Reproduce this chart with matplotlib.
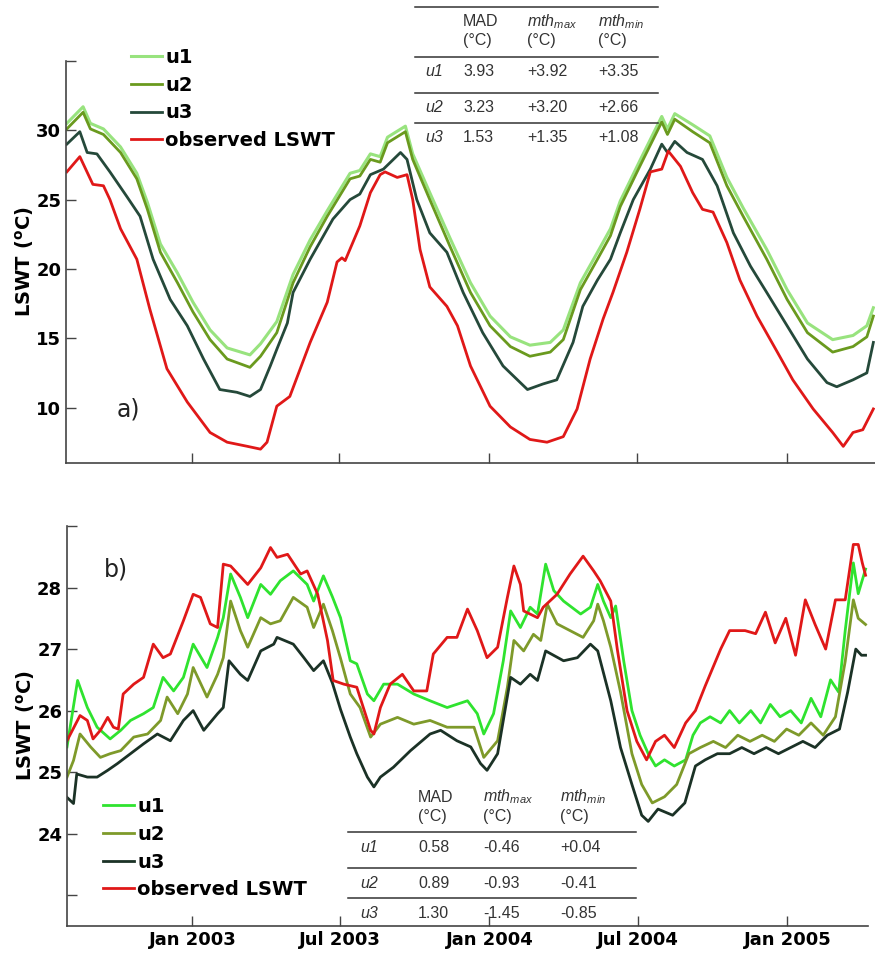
import matplotlib.pyplot as plt
import matplotlib.dates as mdates
from matplotlib.lines import Line2D
import pandas as pd

plt.rcParams['mathtext.fontset'] = 'custom'
plt.rcParams['mathtext.it'] = 'Liberation Sans:italic'
plt.rcParams['mathtext.rm'] = 'Liberation Sans'
plt.rcParams['mathtext.bf'] = 'DejaVu Sans:bold'

START = pd.Timestamp('2003-01-01')

# ---- panel a) : days since 1 Jan 2003, LSWT (deg C)
a_obs_days = [-154, -138, -122, -109, -101, -88, -68, -52, -31, -6, 22, 43, 68, 84, 92, 104, 120, 145,
              166, 178, 184, 188, 206, 219, 231, 237, 252, 264, 271, 280, 292, 313, 326, 342, 366, 391,
              415, 436, 456, 473, 489, 505, 517, 534, 550, 563, 577, 585, 600, 615, 627, 640, 657, 673,
              694, 719, 738, 763, 787, 800, 812, 824, 837]
a_obs = [27.0, 28.1, 26.1, 26.0, 25.0, 22.9, 20.7, 17.1, 12.8, 10.4, 8.2, 7.5, 7.2, 7.0, 7.5, 10.1, 10.8, 14.7,
         17.6, 20.5, 20.8, 20.6, 23.1, 25.5, 26.8, 27.0, 26.6, 26.8, 25.0, 21.4, 18.7, 17.3, 15.9, 13.0, 10.1, 8.6,
         7.7, 7.5, 7.9, 9.9, 13.5, 16.4, 18.3, 21.2, 24.3, 27.0, 27.2, 28.5, 27.4, 25.5, 24.3, 24.1, 21.9, 19.2,
         16.6, 14.0, 12.0, 9.9, 8.2, 7.2, 8.2, 8.4, 9.9]

a_u3_days = [-154, -138, -129, -117, -101, -80, -64, -48, -27, -6, 14, 34, 55, 71, 84, 96, 104, 117, 124, 145,
             173, 194, 206, 219, 235, 256, 264, 276, 292, 313, 333, 357, 382, 412, 431, 448, 468, 480, 498,
             514, 526, 542, 563, 577, 584, 593, 608, 627, 645, 665, 686, 706, 731, 756, 780, 792, 812, 829, 837]
a_u3 = [29.0, 29.9, 28.4, 28.3, 27.0, 25.2, 23.8, 20.7, 17.8, 15.9, 13.5, 11.3, 11.1, 10.8, 11.3, 13.0, 14.2, 16.1, 18.3, 20.7,
        23.6, 25.0, 25.4, 26.8, 27.2, 28.4, 27.9, 25.0, 22.6, 21.2, 18.3, 15.4, 13.0, 11.3, 11.7, 12.0, 14.7, 17.3, 19.2,
        20.7, 22.6, 25.0, 27.2, 29.0, 28.4, 29.2, 28.4, 27.9, 26.0, 22.6, 20.2, 18.3, 15.9, 13.5, 11.8, 11.5, 12.0, 12.5, 14.7]

a_u2_days = [-154, -134, -125, -109, -88, -68, -55, -39, -18, 1, 22, 43, 71, 84, 104, 124, 145, 166, 194,
             206, 219, 231, 240, 262, 271, 292, 317, 342, 366, 391, 415, 440, 456, 477, 498, 514, 526, 550,
             577, 584, 593, 615, 636, 657, 677, 706, 731, 756, 787, 812, 829, 837]
a_u2 = [30.1, 31.3, 30.1, 29.7, 28.4, 26.5, 24.3, 21.2, 19.0, 16.9, 14.9, 13.5, 12.9, 13.7, 15.4, 19.0, 21.6, 23.8, 26.5,
        26.7, 27.9, 27.7, 29.1, 29.9, 27.9, 25.0, 21.6, 18.3, 15.9, 14.4, 13.7, 14.0, 14.9, 18.5, 20.7, 22.4, 24.5, 27.4,
        30.6, 29.7, 30.8, 29.9, 29.1, 26.0, 23.8, 20.7, 17.8, 15.4, 14.0, 14.4, 15.1, 16.6]

a_u1_days = a_u2_days
a_u1 = [30.5, 31.7, 30.5, 30.1, 28.8, 26.9, 24.8, 21.8, 19.7, 17.6, 15.6, 14.3, 13.8, 14.6, 16.2, 19.6, 22.1, 24.2, 26.9,
        27.1, 28.3, 28.1, 29.5, 30.3, 28.3, 25.5, 22.2, 19.0, 16.6, 15.1, 14.5, 14.7, 15.6, 19.0, 21.2, 22.9, 24.9, 27.8,
        31.0, 30.1, 31.2, 30.4, 29.6, 26.6, 24.4, 21.4, 18.5, 16.1, 14.9, 15.2, 15.9, 17.2]

# ---- panel b)
b_obs_days = [-154, -138, -129, -122, -113, -104, -97, -91, -85, -72, -60, -48, -36, -27, -11, 1, 10, 22, 31, 38,
              47, 68, 84, 96, 104, 117, 133, 141, 154, 166, 173, 186, 202, 219, 223, 231, 243, 258, 272, 288,
              296, 313, 325, 338, 350, 362, 375, 387, 395, 403, 407, 424, 431, 448, 464, 480, 493, 501, 514,
              522, 534, 546, 558, 569, 580, 592, 606, 618, 630, 649, 660, 679, 692, 704, 716, 729, 741, 753,
              765, 778, 790, 802, 812, 818, 823, 827]
b_obs = [25.51, 25.92, 25.84, 25.54, 25.68, 25.89, 25.73, 25.70, 26.27, 26.43, 26.54, 27.08, 26.86, 26.92, 27.46,
         27.89, 27.84, 27.41, 27.35, 28.38, 28.35, 28.05, 28.32, 28.65, 28.49, 28.54, 28.22, 28.27, 27.89, 27.14,
         26.49, 26.43, 26.38, 25.68, 25.62, 26.05, 26.43, 26.59, 26.32, 26.32, 26.92, 27.19, 27.19, 27.65, 27.30,
         26.86, 27.03, 27.84, 28.35, 28.05, 27.62, 27.51, 27.68, 27.89, 28.22, 28.51, 28.27, 28.11, 27.78,
         27.0, 26.0, 25.5, 25.2, 25.5, 25.6, 25.4, 25.8, 26.0, 26.4, 27.0, 27.3, 27.3, 27.25, 27.6, 27.1, 27.5,
         26.9, 27.8, 27.4, 27.0, 27.8, 27.8, 28.7, 28.7, 28.4, 28.2]

b_u1_days = [-154, -141, -129, -117, -101, -88, -76, -60, -48, -36, -23, -11, 1, 18, 31, 38, 47, 59, 68, 84, 96,
             108, 124, 141, 149, 161, 172, 182, 194, 202, 215, 223, 235, 252, 272, 292, 313, 338, 350, 358, 370,
             382, 391, 403, 415, 424, 434, 444, 456, 477, 489, 498, 505, 514, 520, 530, 540, 550, 560, 569, 580,
             592, 606, 615, 624, 636, 649, 660, 672, 686, 698, 710, 722, 735, 748, 760, 772, 784, 794, 802, 812,
             818, 827]
b_u1 = [25.41, 26.49, 26.05, 25.73, 25.54, 25.68, 25.84, 25.95, 26.05, 26.54, 26.32, 26.54, 27.08, 26.70, 27.19,
        27.51, 28.22, 27.84, 27.51, 28.05, 27.89, 28.11, 28.27, 28.05, 27.78, 28.19, 27.85, 27.51, 26.81, 26.76,
        26.27, 26.16, 26.43, 26.43, 26.27, 26.16, 26.05, 26.16, 25.95, 25.62, 25.95, 26.81, 27.62, 27.35, 27.68,
        27.57, 28.38, 27.95, 27.78, 27.57, 27.68, 28.05, 27.78, 27.51, 27.7, 26.8, 26.0, 25.6, 25.3, 25.1, 25.2,
        25.1, 25.2, 25.6, 25.8, 25.9, 25.8, 26.0, 25.8, 26.0, 25.8, 26.1, 25.9, 26.0, 25.8, 26.2, 25.9, 26.5,
        26.3, 27.3, 28.4, 27.9, 28.3]

b_u2_days = [-154, -146, -138, -125, -113, -101, -88, -72, -55, -39, -31, -18, -6, 1, 18, 31, 38, 47, 59, 68, 84,
             96, 108, 124, 141, 149, 161, 172, 182, 194, 206, 219, 231, 252, 272, 292, 313, 333, 346, 358, 375,
             387, 395, 407, 419, 428, 436, 448, 464, 480, 493, 498, 505, 514, 526, 540, 552, 565, 580, 595, 610,
             624, 640, 655, 670, 685, 700, 715, 730, 745, 760, 775, 790, 802, 812, 818, 827]
b_u2 = [24.92, 25.19, 25.62, 25.41, 25.24, 25.30, 25.35, 25.57, 25.62, 25.84, 26.22, 25.95, 26.27, 26.70, 26.22,
        26.59, 26.86, 27.78, 27.30, 27.03, 27.51, 27.41, 27.46, 27.84, 27.68, 27.35, 27.73, 27.3, 26.85, 26.27,
        26.05, 25.57, 25.78, 25.89, 25.78, 25.84, 25.73, 25.73, 25.73, 25.24, 25.51, 26.38, 27.14, 26.97, 27.24,
        27.14, 27.73, 27.41, 27.30, 27.19, 27.46, 27.73, 27.46, 27.03, 26.3, 25.3, 24.8, 24.5, 24.6, 24.8, 25.3,
        25.4, 25.5, 25.4, 25.6, 25.5, 25.6, 25.5, 25.7, 25.6, 25.8, 25.6, 25.9, 26.8, 27.8, 27.5, 27.4]

b_u3_days = [-154, -146, -142, -129, -117, -104, -92, -76, -60, -43, -27, -11, 1, 14, 31, 38, 45, 59, 68, 84, 100,
             104, 124, 137, 149, 161, 172, 182, 194, 202, 215, 223, 231, 247, 268, 292, 305, 325, 342, 354, 362,
             375, 391, 403, 415, 424, 434, 456, 473, 489, 498, 514, 526, 540, 552, 560, 572, 590, 605, 618, 630,
             645, 660, 675, 690, 705, 720, 735, 750, 765, 780, 795, 805, 815, 822, 827]
b_u3 = [24.59, 24.49, 24.97, 24.92, 24.92, 25.03, 25.14, 25.30, 25.46, 25.62, 25.51, 25.84, 26.0, 25.68, 25.95,
        26.05, 26.81, 26.59, 26.49, 26.97, 27.08, 27.19, 27.08, 26.86, 26.65, 26.81, 26.45, 26.02, 25.57, 25.30,
        24.92, 24.76, 24.92, 25.08, 25.35, 25.62, 25.68, 25.51, 25.41, 25.14, 25.03, 25.30, 26.54, 26.43, 26.59,
        26.49, 26.97, 26.81, 26.86, 27.08, 26.97, 26.16, 25.4, 24.8, 24.3, 24.2, 24.4, 24.3, 24.5, 25.1, 25.2,
        25.3, 25.3, 25.4, 25.3, 25.4, 25.3, 25.4, 25.5, 25.4, 25.6, 25.7, 26.3, 27.0, 26.9, 26.9]

series_names = ['u1', 'u2', 'u3', 'observed LSWT']

# error tables
table_header = ['MAD', r'$\mathit{mth}_{\mathit{max}}$', r'$\mathit{mth}_{\mathit{min}}$']
a_table = [['u1', '3.93', '+3.92', '+3.35'],
           ['u2', '3.23', '+3.20', '+2.66'],
           ['u3', '1.53', '+1.35', '+1.08']]
b_table = [['u1', '0.58', '-0.46', '+0.04'],
           ['u2', '0.89', '-0.93', '-0.41'],
           ['u3', '1.30', '-1.45', '-0.85']]

W, H = 875, 956


def fx(x):
    return x / W


def fy(y):
    return 1 - y / H


def to_dates(days):
    return START + pd.to_timedelta(days, unit='D')


def style_axis(ax, xlim_days, show_labels):
    ax.spines['top'].set_visible(False)
    ax.spines['right'].set_visible(False)
    for s in ['left', 'bottom']:
        ax.spines[s].set_color('#444444')
        ax.spines[s].set_linewidth(1.2)
    ax.set_xlim(to_dates(xlim_days[0]), to_dates(xlim_days[1]))
    ax.xaxis.set_major_locator(mdates.MonthLocator(bymonth=[1, 7]))
    ax.xaxis.set_major_formatter(mdates.DateFormatter('%b %Y'))
    ax.tick_params(direction='in', length=7, width=1, color='#444444', labelsize=13)
    if not show_labels:
        ax.tick_params(axis='x', labelbottom=False)
    for lab in ax.get_xticklabels() + ax.get_yticklabels():
        lab.set_fontweight('bold')
    ax.set_ylabel(r'LSWT ($^{\mathbf{o}}$C)', fontsize=14, fontweight='bold', labelpad=1)


def draw_table(rows, col_x, head_y, row_y, line_y, x0, x1):
    tc = '#333333'
    fs = 11.5
    for j, h in enumerate(table_header):
        fig.text(fx(col_x[j + 1]), fy(head_y[0]), h, fontsize=fs, color=tc,
                 family='Liberation Sans', va='center')
        fig.text(fx(col_x[j + 1]), fy(head_y[1]), '(°C)', fontsize=fs, color=tc,
                 family='Liberation Sans', va='center')
    for i, row in enumerate(rows):
        for j, cell in enumerate(row):
            fig.text(fx(col_x[j]), fy(row_y[i]), cell, fontsize=fs, color=tc,
                     family='Liberation Sans', style='italic' if j == 0 else 'normal', va='center')
    for y in line_y:
        fig.add_artist(Line2D([fx(x0), fx(x1)], [fy(y), fy(y)], color='#333333', lw=1.1))


fig = plt.figure(figsize=(8.75, 9.56), dpi=100)

# ---------- a)
ax1 = fig.add_axes([fx(66), fy(463), fx(875) - fx(66), fy(61) - fy(463)])
a_colors = ['#98e37e', '#6a9a1e', '#25493a', '#e01818']
ax1.plot(to_dates(a_u1_days), a_u1, color=a_colors[0], lw=2.2, label=series_names[0])
ax1.plot(to_dates(a_u2_days), a_u2, color=a_colors[1], lw=2.0, label=series_names[1])
ax1.plot(to_dates(a_u3_days), a_u3, color=a_colors[2], lw=2.0, label=series_names[2])
ax1.plot(to_dates(a_obs_days), a_obs, color=a_colors[3], lw=2.0, label=series_names[3])
ax1.set_ylim(6, 35)
ax1.set_yticks([10, 15, 20, 25, 30, 35])
ax1.set_yticklabels(['10', '15', '20', '25', '30', ''])
style_axis(ax1, (-155, 839), False)
ax1.legend(loc='upper left', bbox_to_anchor=(fx(131), fy(48)), bbox_transform=fig.transFigure,
           frameon=False, borderpad=0, borderaxespad=0, handlelength=1.6, handletextpad=0.15,
           labelspacing=0.45, prop={'weight': 'bold', 'size': 14})
fig.text(fx(117), fy(410), 'a)', fontsize=17, va='center', color='#222222')

draw_table(a_table, [425, 463, 527, 598], [22, 40], [72, 108, 138], [7, 57, 93, 123], 415, 658)

# ---------- b)
ax2 = fig.add_axes([fx(67), fy(926), fx(868) - fx(67), fy(526) - fy(926)])
b_colors = ['#2fe32f', '#7e9a2a', '#1b3226', '#e01818']
ax2.plot(to_dates(b_u1_days), b_u1, color=b_colors[0], lw=2.0, label=series_names[0])
ax2.plot(to_dates(b_u2_days), b_u2, color=b_colors[1], lw=2.0, label=series_names[1])
ax2.plot(to_dates(b_u3_days), b_u3, color=b_colors[2], lw=2.0, label=series_names[2])
ax2.plot(to_dates(b_obs_days), b_obs, color=b_colors[3], lw=2.0, label=series_names[3])
ax2.set_ylim(22.5, 29)
ax2.set_yticks([23, 24, 25, 26, 27, 28, 29])
ax2.set_yticklabels(['', '24', '25', '26', '27', '28', ''])
style_axis(ax2, (-154, 830), True)
ax2.legend(loc='upper left', bbox_to_anchor=(fx(103), fy(797)), bbox_transform=fig.transFigure,
           frameon=False, borderpad=0, borderaxespad=0, handlelength=1.6, handletextpad=0.15,
           labelspacing=0.45, prop={'weight': 'bold', 'size': 14})
fig.text(fx(104), fy(570), 'b)', fontsize=17, va='center', color='#222222')

draw_table(b_table, [360, 418, 483, 560], [797, 816], [848, 883, 913], [832, 868, 898], 348, 636)

fig.savefig('out.png', dpi=100)
